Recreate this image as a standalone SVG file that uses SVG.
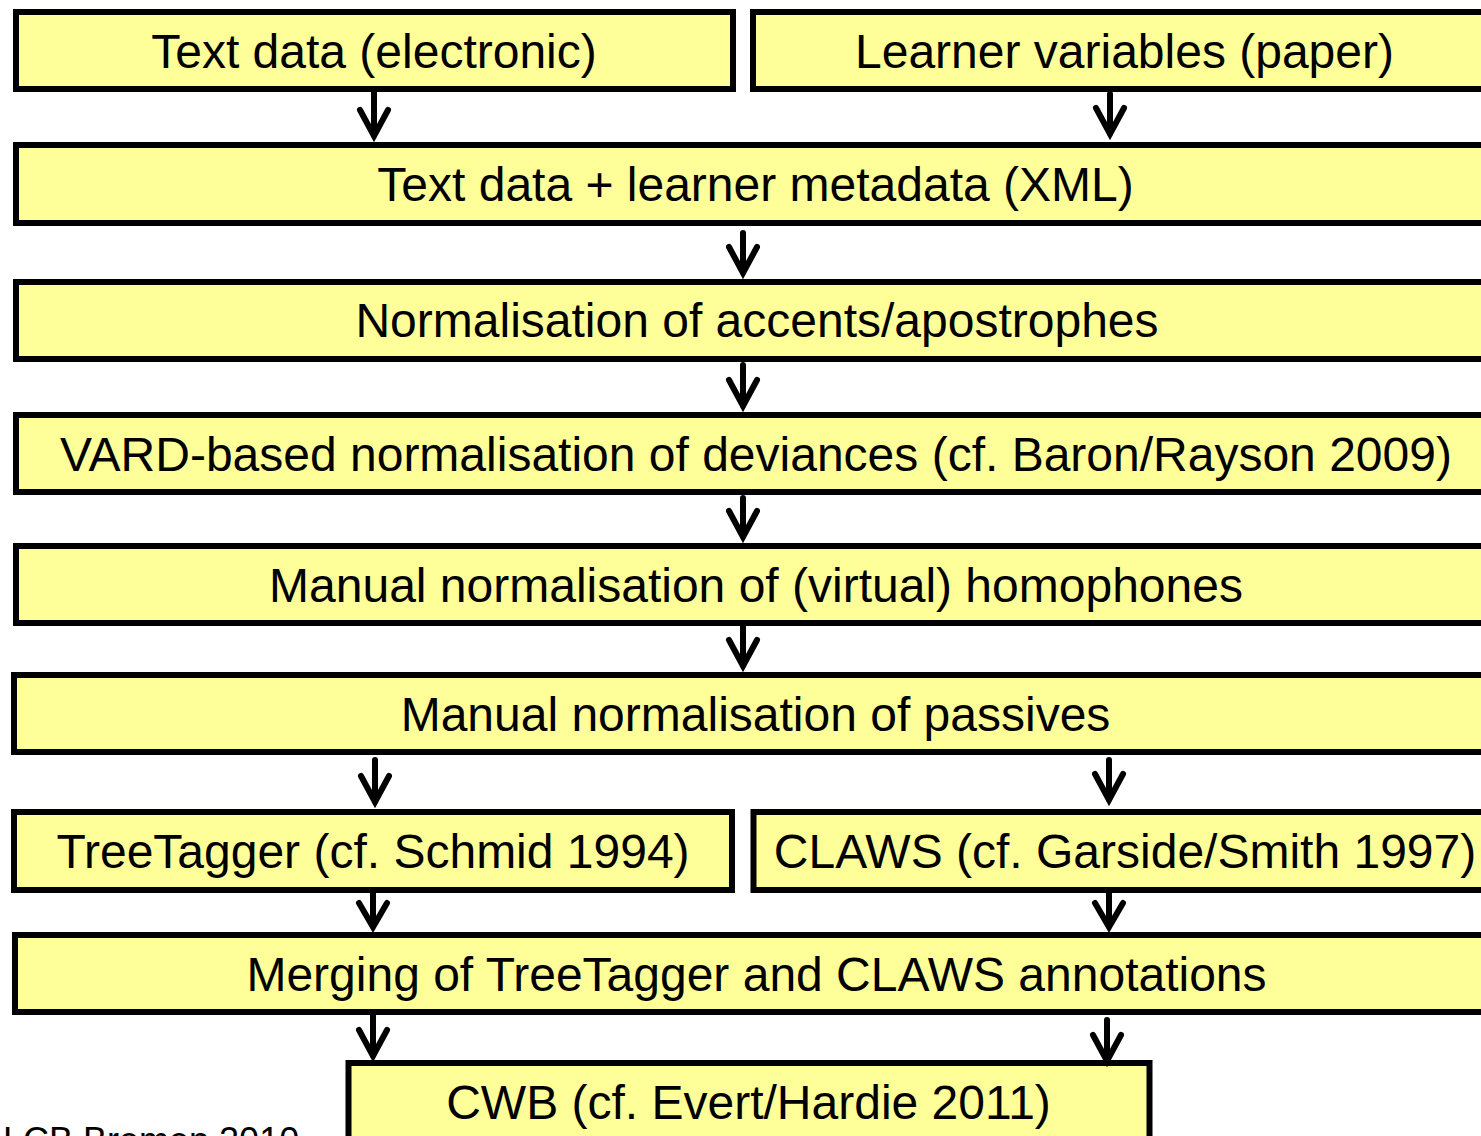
<svg xmlns="http://www.w3.org/2000/svg" width="1481" height="1136" viewBox="0 0 1481 1136">
<style>
.box{fill:#ffff99;stroke:#000;stroke-width:6}
.lbl{font-family:"Liberation Sans",Arial,sans-serif;font-size:48px;fill:#000;text-anchor:middle}
.arr{fill:none;stroke:#000;stroke-width:6;stroke-linecap:round;stroke-linejoin:miter;stroke-miterlimit:6}
.foot{font-family:"Liberation Sans",Arial,sans-serif;font-size:36px;fill:#000}
</style>
<rect width="1481" height="1136" fill="#fff"/>
<g id="n1"><rect class="box" x="16" y="12" width="717" height="77"/><text class="lbl" x="374" y="67.5">Text data (electronic)</text></g>
<g id="n2"><rect class="box" x="753" y="12" width="743" height="77"/><text class="lbl" x="1124.5" y="67.5">Learner variables (paper)</text></g>
<g id="n3"><rect class="box" x="16" y="145" width="1480" height="78"/><text class="lbl" x="755.5" y="201">Text data + learner metadata (XML)</text></g>
<g id="n4"><rect class="box" x="16" y="282" width="1480" height="77"/><text class="lbl" x="757" y="337">Normalisation of accents/apostrophes</text></g>
<g id="n5"><rect class="box" x="16" y="415" width="1480" height="77"/><text class="lbl" x="756" y="470.5">VARD-based normalisation of deviances (cf. Baron/Rayson 2009)</text></g>
<g id="n6"><rect class="box" x="16" y="546" width="1480" height="77"/><text class="lbl" x="756" y="601.5">Manual normalisation of (virtual) homophones</text></g>
<g id="n7"><rect class="box" x="14" y="675" width="1482" height="77"/><text class="lbl" x="755.5" y="730.5">Manual normalisation of passives</text></g>
<g id="n8"><rect class="box" x="14" y="812" width="718" height="78"/><text class="lbl" x="373" y="868">TreeTagger (cf. Schmid 1994)</text></g>
<g id="n9"><rect class="box" x="753.5" y="812" width="742" height="78"/><text class="lbl" x="1125" y="868">CLAWS (cf. Garside/Smith 1997)</text></g>
<g id="n10"><rect class="box" x="15" y="935" width="1481" height="77"/><text class="lbl" x="756.5" y="990.5">Merging of TreeTagger and CLAWS annotations</text></g>
<g id="n11"><rect class="box" x="348.5" y="1063" width="801" height="80"/><text class="lbl" x="748.5" y="1119">CWB (cf. Evert/Hardie 2011)</text></g>
<g id="connectors">
<path class="arr" d="M374 92V136M360 110L374 136L388 110"/>
<path class="arr" d="M1110 94V134M1096 108L1110 134L1124 108"/>
<path class="arr" d="M743 233V273M729 247L743 273L757 247"/>
<path class="arr" d="M743 365V406M729 380L743 406L757 380"/>
<path class="arr" d="M743 498V537M729 511L743 537L757 511"/>
<path class="arr" d="M743 626V666M729 640L743 666L757 640"/>
<path class="arr" d="M375 760V802M361 776L375 802L389 776"/>
<path class="arr" d="M1109 760V800M1095 774L1109 800L1123 774"/>
<path class="arr" d="M373 893V927M359 903L373 927L387 903"/>
<path class="arr" d="M1109 893V927M1095 903L1109 927L1123 903"/>
<path class="arr" d="M373 1013V1056M359 1030L373 1056L387 1030"/>
<path class="arr" d="M1107 1020V1061M1093 1035L1107 1061L1121 1035"/>
</g>
<text class="foot" x="3" y="1153">LCB Bremen 2010</text>
</svg>
